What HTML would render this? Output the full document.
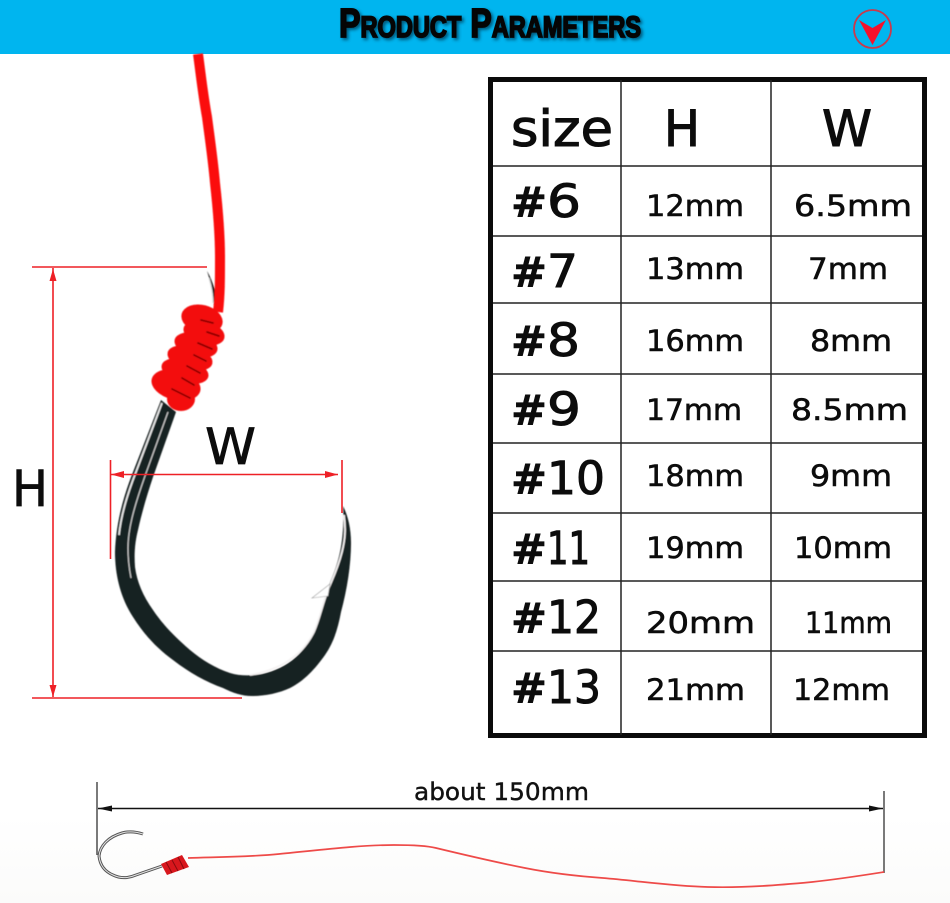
<!DOCTYPE html>
<html><head><meta charset="utf-8">
<style>
html,body{margin:0;padding:0;background:#fff;width:950px;height:903px;overflow:hidden}
svg{display:block}
.v{font-family:"DejaVu Sans",sans-serif;font-size:29px;fill:#0c0c0c;stroke:#0c0c0c;stroke-width:.55px}
.n{font-family:"DejaVu Sans",sans-serif;font-size:45px;fill:#0c0c0c;stroke:#0c0c0c;stroke-width:1px}
.s{font-family:"DejaVu Sans",sans-serif;font-size:42px;font-weight:700;fill:#0c0c0c;stroke:#0c0c0c;stroke-width:.6px}
.h{font-family:"DejaVu Sans",sans-serif;fill:#0c0c0c;stroke:#0c0c0c;stroke-width:1.1px;font-size:50px}
</style></head><body>
<svg width="950" height="903" viewBox="0 0 950 903" xmlns="http://www.w3.org/2000/svg">
<defs>
<linearGradient id="bg" x1="0" y1="0" x2="0" y2="1"><stop offset="0" stop-color="#fff"/><stop offset="1" stop-color="#fbfbfa"/></linearGradient>
<filter id="sh" x="-10%" y="-30%" width="120%" height="170%"><feGaussianBlur stdDeviation="1.6"/></filter>
<filter id="soft" x="-5%" y="-5%" width="110%" height="110%"><feGaussianBlur stdDeviation=".5"/></filter>
</defs>
<rect width="950" height="903" fill="#fff"/>
<rect x="0" y="815" width="950" height="88" fill="url(#bg)"/>
<!-- header -->
<rect width="950" height="54" fill="#00b5ef"/>
<g font-family="'Liberation Sans',sans-serif" font-weight="700">
<text x="341" y="39" font-size="41" fill="#00415c" opacity=".8" filter="url(#sh)" textLength="302" lengthAdjust="spacingAndGlyphs" stroke="#00415c" stroke-width="1.800">P<tspan font-size="30">RODUCT</tspan> P<tspan font-size="30">ARAMETERS</tspan></text>
<text x="339" y="37" font-size="41" fill="#050505" textLength="302" lengthAdjust="spacingAndGlyphs" stroke="#050505" stroke-width="1.800">P<tspan font-size="30">RODUCT</tspan> P<tspan font-size="30">ARAMETERS</tspan></text>
</g>
<ellipse cx="872.500" cy="29" rx="18.500" ry="19" fill="none" stroke="#c93a4c" stroke-width="1.800"/>
<path d="M859 20 L872.500 28 L886 20 L872.500 45 Z" fill="#f6102a"/>

<!-- hook -->
<g filter="url(#soft)">
<path d="M161 400 L133 472 C122 500 116 525 115 552 C115 578 122 600 133 617 C145 636 158 649 173 660 C190 673 206 682 223 688 C233 693 242 696 252 696 C266 696 279 693 290 688 C304 681 315 669 325 655 C334 642 338 628 341 612 C347 590 351 565 351 543 C351 528 348 516 343 506 C344 520 343 538 340 552 C337 566 333 575 329 585 C324 598 321 610 318 622 C313 637 306 648 296 657 C286 666 275 671 262 674 C251 676 240 676 230 673 C215 668 202 660 190 650 C176 638 163 625 153 610 C143 596 137 582 135 567 C134 553 135 542 138 530 C142 512 147 495 153 477 L176 412 Z" fill="#182020"/>
<path d="M162 403 L136 472 C127 495 121 515 119 535" fill="none" stroke="#e8e8e8" stroke-width="1.800"/>
<path d="M168 412 L145 476 C133 510 128 530 128 548 C128 560 129 568 131 578" fill="none" stroke="#c9c9c9" stroke-width="1.200"/>
<path d="M344 515 C346 530 345 540 342 552 C338 568 333 578 328 590 C322 606 320 618 314 632 C306 648 296 656 285 663 C272 670 262 673 250 675" fill="none" stroke="#f4f2f2" stroke-width="1.800"/>
<path d="M312 598 L330 584 L328 596 Z" fill="#fff" stroke="#999" stroke-width=".6"/>
<path d="M207 271 C211 283 213 295 214 306 L220 312 C217 296 213 281 207 271 Z" fill="#181818"/>
<path d="M209 278 C212 288 213 296 213 303" fill="none" stroke="#ddd" stroke-width="1.300"/>
<!-- line -->
<path d="M198 54 C201 76 203 95 207 117 C210 140 213 160 215 183 C218 210 220 235 220 257 C220 280 220 295 218 312" fill="none" stroke="#fb0d0d" stroke-width="10"/>
<!-- knot -->
<g fill="#f30d0d">
<ellipse cx="202" cy="319" rx="21" ry="14" transform="rotate(14 202 319)"/>
<ellipse cx="204" cy="333" rx="21" ry="12" transform="rotate(14 204 333)"/>
<ellipse cx="196" cy="345" rx="22" ry="12" transform="rotate(14 196 345)"/>
<ellipse cx="190" cy="358" rx="23" ry="12" transform="rotate(14 190 358)"/>
<ellipse cx="185" cy="371" rx="24" ry="12" transform="rotate(14 185 371)"/>
<ellipse cx="176" cy="385" rx="25" ry="15" transform="rotate(14 176 385)"/>
<ellipse cx="181" cy="399" rx="14" ry="12"/>
</g>
<g fill="none" stroke="#8c0606" stroke-width="1.800" stroke-linecap="round">
<path d="M201 320 L213 323 M207 332 L219 336 M198 343 L212 349 M194 355 L206 361 M187 366 L200 373 M182 378 L194 385 M172 389 L190 398"/>
</g>
</g>

<!-- dims -->
<g stroke="#ee2026" stroke-width="1.600" fill="none">
<path d="M32 267 H207 M32 698 H242 M53 268 V697"/>
<path d="M111 474.500 H338 M110.500 460 V559 M342 460 V513"/>
</g>
<g fill="#ee2026">
<path d="M53 269 L49.500 281 H56.500 Z M53 697 L49.500 685 H56.500 Z"/>
<path d="M111 474.500 L124 471 V478 Z M338 474.500 L325 471 V478 Z"/>
</g>
<text class="h" x="12" y="506" textLength="36" lengthAdjust="spacingAndGlyphs" style="stroke-width:.7px">H</text>
<text class="h" x="205" y="464" textLength="51" lengthAdjust="spacingAndGlyphs" style="stroke-width:.7px">W</text>

<!-- table -->
<rect x="490.500" y="79.500" width="434" height="656" fill="#fff" stroke="#0b0b0b" stroke-width="5"/>
<g stroke="#222" stroke-width="1.500" fill="none">
<path d="M621 80 V735 M771 80 V735"/>
<path d="M493 166 H922 M493 236 H922 M493 303 H922 M493 374 H922 M493 443 H922 M493 513 H922 M493 581 H922 M493 651 H922"/>
</g>
<text class="h" x="511" y="146" textLength="102" lengthAdjust="spacingAndGlyphs">size</text>
<text class="h" x="664" y="146" textLength="36" lengthAdjust="spacingAndGlyphs">H</text>
<text class="h" x="822" y="146" textLength="50" lengthAdjust="spacingAndGlyphs">W</text>

<g>
<text class="s" x="511" y="217" textLength="36" lengthAdjust="spacingAndGlyphs">#</text><text class="n" x="547" y="217" textLength="34" lengthAdjust="spacingAndGlyphs">6</text>
<text class="s" x="511" y="287" textLength="36" lengthAdjust="spacingAndGlyphs">#</text><text class="n" x="547" y="287" textLength="31" lengthAdjust="spacingAndGlyphs">7</text>
<text class="s" x="511" y="356" textLength="36" lengthAdjust="spacingAndGlyphs">#</text><text class="n" x="547" y="356" textLength="33" lengthAdjust="spacingAndGlyphs">8</text>
<text class="s" x="511" y="425" textLength="36" lengthAdjust="spacingAndGlyphs">#</text><text class="n" x="547" y="425" textLength="34" lengthAdjust="spacingAndGlyphs">9</text>
<text class="s" x="511" y="494" textLength="36" lengthAdjust="spacingAndGlyphs">#</text><text class="n" x="547" y="494" textLength="58" lengthAdjust="spacingAndGlyphs">10</text>
<text class="s" x="511" y="564" textLength="36" lengthAdjust="spacingAndGlyphs">#</text><text class="n" x="547" y="564" textLength="43" lengthAdjust="spacingAndGlyphs">11</text>
<text class="s" x="511" y="633" textLength="36" lengthAdjust="spacingAndGlyphs">#</text><text class="n" x="547" y="633" textLength="54" lengthAdjust="spacingAndGlyphs">12</text>
<text class="s" x="511" y="703" textLength="36" lengthAdjust="spacingAndGlyphs">#</text><text class="n" x="547" y="703" textLength="54" lengthAdjust="spacingAndGlyphs">13</text>
</g>
<g>
<text class="v" x="646" y="216" textLength="98" lengthAdjust="spacingAndGlyphs">12mm</text>
<text class="v" x="646" y="279" textLength="98" lengthAdjust="spacingAndGlyphs">13mm</text>
<text class="v" x="646" y="351" textLength="98" lengthAdjust="spacingAndGlyphs">16mm</text>
<text class="v" x="646" y="420" textLength="96" lengthAdjust="spacingAndGlyphs">17mm</text>
<text class="v" x="646" y="486" textLength="98" lengthAdjust="spacingAndGlyphs">18mm</text>
<text class="v" x="646" y="558" textLength="98" lengthAdjust="spacingAndGlyphs">19mm</text>
<text class="v" x="646" y="633" textLength="109" lengthAdjust="spacingAndGlyphs">20mm</text>
<text class="v" x="646" y="700" textLength="99" lengthAdjust="spacingAndGlyphs">21mm</text>

<text class="v" x="794" y="216" textLength="118" lengthAdjust="spacingAndGlyphs">6.5mm</text>
<text class="v" x="808" y="279" textLength="80" lengthAdjust="spacingAndGlyphs">7mm</text>
<text class="v" x="810" y="351" textLength="82" lengthAdjust="spacingAndGlyphs">8mm</text>
<text class="v" x="791" y="420" textLength="117" lengthAdjust="spacingAndGlyphs">8.5mm</text>
<text class="v" x="810" y="486" textLength="82" lengthAdjust="spacingAndGlyphs">9mm</text>
<text class="v" x="794" y="558" textLength="98" lengthAdjust="spacingAndGlyphs">10mm</text>
<text class="v" x="805" y="633" textLength="87" lengthAdjust="spacingAndGlyphs">11mm</text>
<text class="v" x="793" y="700" textLength="97" lengthAdjust="spacingAndGlyphs">12mm</text>
</g>

<!-- bottom -->
<path d="M97 782 V855 M884 791 V873" stroke="#222" stroke-width="1.200" fill="none"/>
<path d="M98 808.500 H883" stroke="#111" stroke-width="1.500" fill="none"/>
<path d="M98 808.500 L112 805.500 V811.500 Z M883 808.500 L869 805.500 V811.500 Z" fill="#111"/>
<text x="414" y="800" font-family="'DejaVu Sans',sans-serif" font-size="24" fill="#111" stroke="#111" stroke-width=".4" textLength="175" lengthAdjust="spacingAndGlyphs">about 150mm</text>
<path d="M143 834 C137 832 129 831 122 833 C108 837 100 846 99 856 C100 866 106 872 113 875 C121 879 129 878 136 875 L162 866" fill="none" stroke="#555" stroke-width="3"/>
<path d="M143 834 C137 832 129 831 122 833 C108 837 100 846 99 856 C100 866 106 872 113 875 C121 879 129 878 136 875 L162 866" fill="none" stroke="#e4e4e4" stroke-width="1"/>
<path d="M188 858 C220 857 250 857 279 854 C320 850 360 845 394 845 C415 845 428 846 436 848 C465 855 495 862 525 868 C550 873 575 876 603 878 C640 881 670 886 708 887 C745 888 780 885 812 882 C840 879 865 875 884 872" fill="none" stroke="#ee4a48" stroke-width="1.700"/>
<path d="M161 864 L182 855 L189 867 L167 875 Z" fill="#d8171d"/>
<path d="M166 862 L172 873 M172 860 L178 871 M178 857 L184 869" stroke="#8a0b0e" stroke-width="1"/>
</svg>
</body></html>
